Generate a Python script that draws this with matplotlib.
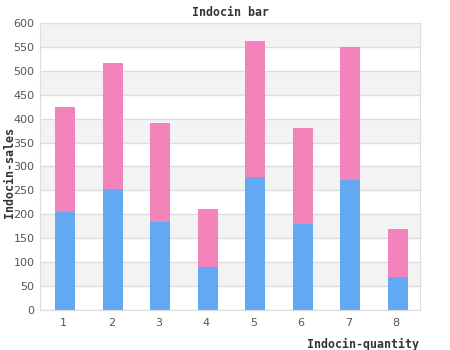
import matplotlib
matplotlib.use("Agg")
import matplotlib.pyplot as plt
import numpy as np

categories = ["1", "2", "3", "4", "5", "6", "7", "8"]
series_a = [205, 253, 185, 90, 278, 180, 272, 68]
series_b = [220, 263, 206, 121, 284, 200, 278, 101]
yticks = [0, 50, 100, 150, 200, 250, 300, 350, 400, 450, 500, 550, 600]

fig = plt.figure(figsize=(4.5, 3.5), dpi=100)
ax = fig.add_axes([40/450, 40/350, 380/450, 287/350])

x = np.arange(len(categories))
for i in range(0, len(yticks) - 1):
    if i % 2 == 1:
        ax.axhspan(yticks[i], yticks[i+1], color="#f3f3f3", zorder=0, lw=0)
ax.set_axisbelow(True)
ax.yaxis.grid(True, color="#dddddd", lw=1, zorder=1)
ax.bar(x + 0.03, series_a, width=0.42, color="#62a8f3", zorder=2)
ax.bar(x + 0.03, series_b, width=0.42, bottom=series_a, color="#f383bb", zorder=2)

ax.set_xlim(-0.5, len(categories) - 0.5)
ax.set_ylim(0, 600)
ax.set_yticks(yticks)
ax.set_xticks(x)
ax.set_xticklabels(categories)
ax.tick_params(axis="both", length=0, labelsize=8, colors="#555555", pad=6)
ax.tick_params(axis="y", pad=4)
for s in ax.spines.values():
    s.set_color("#dddddd")

fig.text(0.513, 1 - 13/350, "Indocin bar", ha="center", va="center",
         family="DejaVu Sans Mono", fontweight="bold", fontsize=8.4, color="#333333")
fig.text(10/450, 1 - 172/350, "Indocin-sales", ha="center", va="center", rotation=90,
         family="DejaVu Sans Mono", fontweight="bold", fontsize=8.4, color="#333333")
fig.text(419/450, 1 - 344/350, "Indocin-quantity", ha="right", va="center",
         family="DejaVu Sans Mono", fontweight="bold", fontsize=8.4, color="#333333")

fig.savefig("out.png", dpi=100)
